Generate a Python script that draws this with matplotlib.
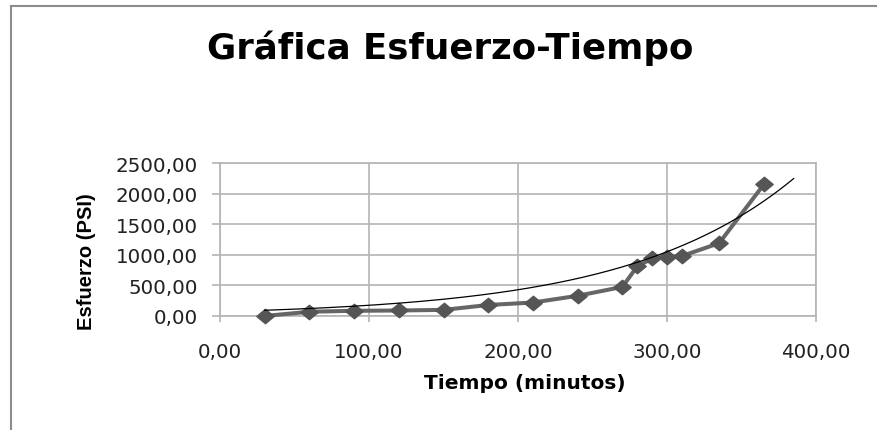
import numpy as np
import matplotlib
matplotlib.use("Agg")
import matplotlib.pyplot as plt
from matplotlib.lines import Line2D
from matplotlib.path import Path
from matplotlib.ticker import FuncFormatter, MultipleLocator

# Measured stress over time
tiempo = [30, 60, 90, 120, 150, 180, 210, 240, 270, 280, 290, 300, 310, 335, 365]
esfuerzo = [0, 70, 85, 90, 100, 180, 220, 330, 475, 810, 940, 960, 980, 1190, 2150]

# Exponential trend y = a * exp(b * x), extended 20 minutes forward
trend_a = 71.6
trend_b = 0.00895
trend_x_start, trend_x_end = 30, 385

title = "Gráfica Esfuerzo-Tiempo"
xlabel = "Tiempo (minutos)"
ylabel = "Esfuerzo (PSI)"

W, H = 877, 431
fig = plt.figure(figsize=(W / 100, H / 100), dpi=100)
fig.patch.set_facecolor("white")

ax = fig.add_axes([220 / W, (H - 317) / H, 596 / W, 153 / H])

grid_c = "#b4b4b4"
ax.set_xlim(0, 400)
ax.set_ylim(0, 2500)
ax.xaxis.set_major_locator(MultipleLocator(100))
ax.yaxis.set_major_locator(MultipleLocator(500))
fmt = FuncFormatter(lambda v, p: f"{v:.2f}".replace(".", ","))
ax.xaxis.set_major_formatter(fmt)
ax.yaxis.set_major_formatter(fmt)
ax.grid(True, color=grid_c, linewidth=1.2)
ax.set_axisbelow(True)
for s in ax.spines.values():
    s.set_color(grid_c)
    s.set_linewidth(1.2)
ax.tick_params(axis="x", direction="out", length=4.5, width=1.2, color=grid_c,
               pad=14, labelsize=14.3, labelcolor="#222222")
ax.tick_params(axis="y", direction="out", length=6, width=1.2, color=grid_c,
               pad=10, labelsize=14.3, labelcolor="#222222")
for lab in ax.get_xticklabels() + ax.get_yticklabels():
    lab.set_family("DejaVu Sans")

# Slightly wide diamond marker
diamond = Path([(-1.2, 0), (0, 1), (1.2, 0), (0, -1), (-1.2, 0)],
               [Path.MOVETO, Path.LINETO, Path.LINETO, Path.LINETO, Path.CLOSEPOLY])
ax.plot(tiempo, esfuerzo, color="#666666", linewidth=2.9, marker=diamond,
        markersize=12.5, markerfacecolor="#555555", markeredgecolor="#555555",
        solid_joinstyle="round", zorder=3, clip_on=False)

tx = np.linspace(trend_x_start, trend_x_end, 200)
ax.plot(tx, trend_a * np.exp(trend_b * tx), color="black", linewidth=0.9, zorder=4)

fig.text(450 / W, (H - 59) / H, title, ha="center", va="baseline",
         fontsize=25.7, fontweight="bold", family="DejaVu Sans")
fig.text(525 / W, (H - 389) / H, xlabel, ha="center", va="baseline",
         fontsize=14.5, fontweight="bold", family="DejaVu Sans")
fig.text(87 / W, (H - 262) / H, ylabel, ha="center", va="center", rotation=90,
         fontsize=14.5, fontweight="bold", family="Liberation Sans")

# Outer chart frame
frame_c = "#8c8c8c"
fig.add_artist(Line2D([11 / W, 11 / W], [0, (H - 7) / H], color=frame_c, linewidth=1.5))
fig.add_artist(Line2D([11 / W, 1], [(H - 7) / H, (H - 7) / H], color=frame_c, linewidth=1.5))

fig.savefig("out.png", dpi=100)
